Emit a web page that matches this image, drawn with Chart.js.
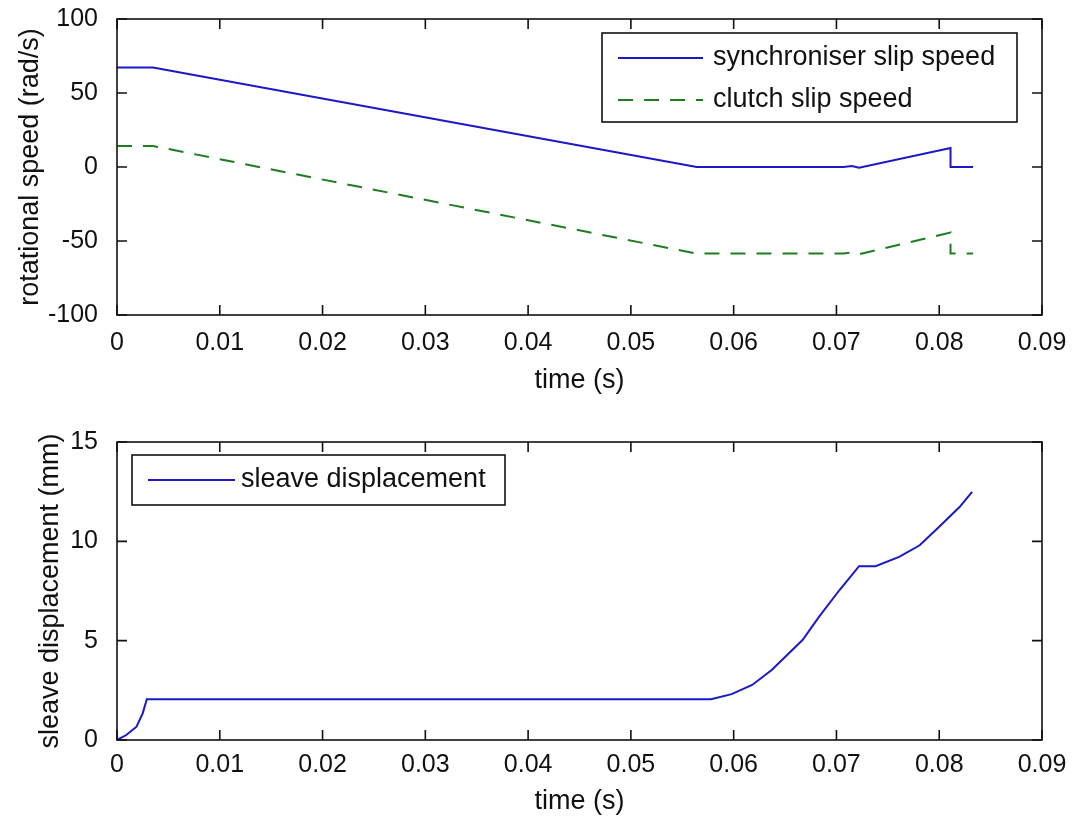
<!DOCTYPE html>
<html>
<head>
<meta charset="utf-8">
<script src="https://cdn.jsdelivr.net/npm/chart.js@4.4.1/dist/chart.umd.min.js"></script>
<style>
  html, body { margin: 0; padding: 0; background: #fff; }
  #wrap { position: relative; width: 1078px; height: 822px; }
  canvas { position: absolute; left: 0; }
  #speedChart { top: 0; }
  #sleaveChart { top: 411px; }
</style>
</head>
<body>
<div id="wrap">
  <canvas id="speedChart" width="1078" height="411"></canvas>
  <canvas id="sleaveChart" width="1078" height="411"></canvas>
</div>
<script>
// time axis ticks (s)
var timeTicks = [0, 0.01, 0.02, 0.03, 0.04, 0.05, 0.06, 0.07, 0.08, 0.09];
var speedTicks = [-100, -50, 0, 50, 100];
var sleaveTicks = [0, 5, 10, 15];

// synchroniser slip speed (rad/s)
var synchTime = [0, 0.0035, 0.0564, 0.0707, 0.0715, 0.0722, 0.0811, 0.0811, 0.0833];
var synchSpeed = [67.2, 67.2, 0, 0, 0.7, -0.5, 12.8, 0, 0];

// clutch slip speed (rad/s)
var clutchTime = [0, 0.0035, 0.0564, 0.0707, 0.0715, 0.0722, 0.0811, 0.0811, 0.0833];
var clutchSpeed = [14.2, 14.2, -58.5, -58.5, -57.8, -59.0, -44.3, -58.5, -58.5];

// sleave displacement (mm)
var sleaveTime = [0, 0.0009, 0.0019, 0.0025, 0.0029, 0.0578, 0.0598, 0.0618, 0.0637, 0.0667,
    0.0683, 0.0703, 0.0722, 0.0738, 0.0761, 0.0781, 0.0800, 0.0820, 0.0832];
var sleaveDisp = [0, 0.25, 0.67, 1.34, 2.05, 2.05, 2.31, 2.77, 3.52, 5.03,
    6.2, 7.55, 8.75, 8.75, 9.22, 9.8, 10.73, 11.74, 12.49];

Chart.defaults.font.family = '"Liberation Sans", Arial, sans-serif';
Chart.defaults.color = '#111';

function toPoints(xs, ys) {
    return xs.map((x, i) => ({ x: x, y: ys[i] }));
}

function fmtTime(v) {
    return String(Math.round(v * 100) / 100);
}

// axes box with inward tick marks on all four sides
var framePlugin = {
    id: 'frame',
    afterDatasetsDraw(chart) {
        var ctx = chart.ctx;
        var a = chart.chartArea;
        var x = chart.scales.x, y = chart.scales.y;
        ctx.save();
        ctx.strokeStyle = '#111';
        ctx.lineWidth = 1.6;
        ctx.strokeRect(a.left, a.top, a.right - a.left, a.bottom - a.top);
        ctx.beginPath();
        x.ticks.forEach(t => {
            var px = x.getPixelForValue(t.value);
            ctx.moveTo(px, a.bottom); ctx.lineTo(px, a.bottom - 10);
            ctx.moveTo(px, a.top); ctx.lineTo(px, a.top + 10);
        });
        y.ticks.forEach(t => {
            var py = y.getPixelForValue(t.value);
            ctx.moveTo(a.left, py); ctx.lineTo(a.left + 10, py);
            ctx.moveTo(a.right, py); ctx.lineTo(a.right - 10, py);
        });
        ctx.stroke();
        ctx.restore();
    }
};

// boxed legend placed inside the plot area
var boxLegendPlugin = {
    id: 'boxLegend',
    afterDraw(chart, args, opts) {
        var ctx = chart.ctx;
        var b = opts.box;
        ctx.save();
        ctx.fillStyle = '#fff';
        ctx.fillRect(b.x, b.y, b.w, b.h);
        ctx.strokeStyle = '#111';
        ctx.lineWidth = 1.6;
        ctx.strokeRect(b.x, b.y, b.w, b.h);
        ctx.font = '27px "Liberation Sans", Arial, sans-serif';
        ctx.textBaseline = 'middle';
        ctx.fillStyle = '#111';
        chart.data.datasets.forEach((ds, i) => {
            var rowY = b.y + opts.rows[i];
            ctx.strokeStyle = ds.borderColor;
            ctx.lineWidth = ds.borderWidth;
            ctx.setLineDash(ds.borderDash || []);
            ctx.beginPath();
            ctx.moveTo(b.x + opts.lineStart, rowY);
            ctx.lineTo(b.x + opts.lineEnd, rowY);
            ctx.stroke();
            ctx.setLineDash([]);
            ctx.fillText(ds.label, b.x + opts.textStart, rowY);
        });
        ctx.restore();
    }
};

function makeOptions(yTicks, yMin, yMax, yTitle, yTitlePad, xTitlePad, xTickPad, xHeight, padTop, legend) {
    return {
        responsive: false,
        animation: false,
        layout: { padding: { left: 0, right: 36, top: padTop, bottom: 0 } },
        plugins: {
            legend: { display: false },
            tooltip: { enabled: false },
            boxLegend: legend
        },
        scales: {
            x: {
                type: 'linear',
                min: 0,
                max: 0.09,
                grid: { display: false },
                border: { display: false },
                afterBuildTicks: function (scale) {
                    scale.ticks = timeTicks.map(v => ({ value: v }));
                },
                afterFit: function (scale) {
                    scale.height = xHeight;
                    scale.paddingLeft = 0;
                    scale.paddingRight = 0;
                },
                ticks: {
                    autoSkip: false,
                    maxRotation: 0,
                    padding: xTickPad,
                    font: { size: 25 },
                    callback: fmtTime
                },
                title: {
                    display: true,
                    text: 'time (s)',
                    font: { size: 27 },
                    padding: xTitlePad
                }
            },
            y: {
                type: 'linear',
                min: yMin,
                max: yMax,
                grid: { display: false },
                border: { display: false },
                afterBuildTicks: function (scale) {
                    scale.ticks = yTicks.map(v => ({ value: v }));
                },
                afterFit: function (scale) {
                    scale.width = 117;
                    scale.paddingTop = 0;
                    scale.paddingBottom = 0;
                },
                ticks: {
                    autoSkip: false,
                    padding: 11,
                    font: { size: 25 },
                    callback: v => String(v)
                },
                title: {
                    display: true,
                    text: yTitle,
                    font: { size: 27 },
                    padding: yTitlePad
                }
            }
        }
    };
}

new Chart(document.getElementById('speedChart'), {
    type: 'scatter',
    data: {
        datasets: [{
            label: 'synchroniser slip speed',
            data: toPoints(synchTime, synchSpeed),
            showLine: true,
            borderColor: 'rgb(25, 25, 200)',
            borderWidth: 2,
            pointRadius: 0,
            tension: 0
        }, {
            label: 'clutch slip speed',
            data: toPoints(clutchTime, clutchSpeed),
            showLine: true,
            borderColor: 'rgb(30, 125, 30)',
            borderWidth: 2,
            borderDash: [15, 11],
            pointRadius: 0,
            tension: 0
        }]
    },
    options: makeOptions(speedTicks, -100, 100, 'rotational speed (rad/s)', 14, 14, 5, 96, 19, {
        box: { x: 602, y: 33, w: 415, h: 89 },
        rows: [25, 67],
        lineStart: 16,
        lineEnd: 101,
        textStart: 111
    }),
    plugins: [framePlugin, boxLegendPlugin]
});

new Chart(document.getElementById('sleaveChart'), {
    type: 'scatter',
    data: {
        datasets: [{
            label: 'sleave displacement',
            data: toPoints(sleaveTime, sleaveDisp),
            showLine: true,
            borderColor: 'rgb(25, 25, 200)',
            borderWidth: 2,
            pointRadius: 0,
            tension: 0
        }]
    },
    options: makeOptions(sleaveTicks, 0, 15, 'sleave displacement (mm)', 34, 4, 2, 82, 31, {
        box: { x: 132, y: 44, w: 373, h: 50 },
        rows: [25],
        lineStart: 16,
        lineEnd: 103,
        textStart: 109
    }),
    plugins: [framePlugin, boxLegendPlugin]
});
</script>
</body>
</html>
